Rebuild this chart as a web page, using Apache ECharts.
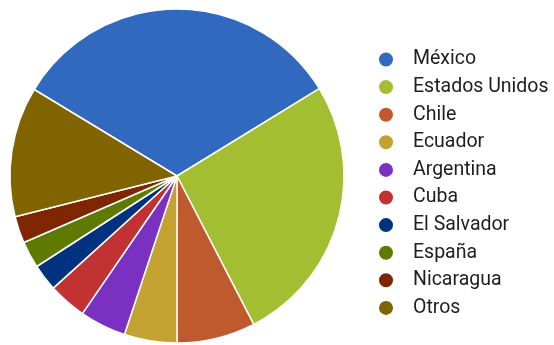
<!DOCTYPE html>
<html>
<head>
<meta charset="utf-8">
<script src="https://cdn.jsdelivr.net/npm/echarts@6/dist/echarts.min.js"></script>
<style>
  html, body { margin: 0; padding: 0; background: #ffffff; }
  #chart { width: 554px; height: 345px; }
</style>
</head>
<body>
<div id="chart"></div>
<script>
// Share by country (percent)
const countries = ['México', 'Estados Unidos', 'Chile', 'Ecuador', 'Argentina', 'Cuba', 'El Salvador', 'España', 'Nicaragua', 'Otros'];
const shares = [32.6, 26.2, 7.6, 5.1, 4.5, 3.7, 2.6, 2.6, 2.6, 12.6];
const palette = ['#3169bf', '#a4be32', '#bf5a2e', '#c4a232', '#7a30c0', '#c23232', '#00327f', '#5f7a00', '#7f2600', '#7f6400'];

const chart = echarts.init(document.getElementById('chart'), null, { renderer: 'canvas' });

chart.setOption({
  animation: false,
  color: palette,
  legend: {
    orient: 'vertical',
    left: 372,
    top: 44.5,
    icon: 'circle',
    itemWidth: 44,
    itemHeight: 16,
    itemGap: 7.6,
    selectedMode: false,
    textStyle: {
      fontFamily: 'Roboto',
      fontSize: 19.5,
      color: '#1e1e1e',
      lineHeight: 19.5
    },
    data: countries
  },
  series: [{
    type: 'pie',
    center: [177, 176],
    radius: [0, 167],
    startAngle: 148.8,
    clockwise: true,
    avoidLabelOverlap: false,
    label: { show: false },
    labelLine: { show: false },
    itemStyle: { borderColor: '#ffffff', borderWidth: 1.5 },
    emphasis: { disabled: true },
    data: countries.map((name, i) => ({ name: name, value: shares[i] }))
  }]
});
</script>
</body>
</html>
